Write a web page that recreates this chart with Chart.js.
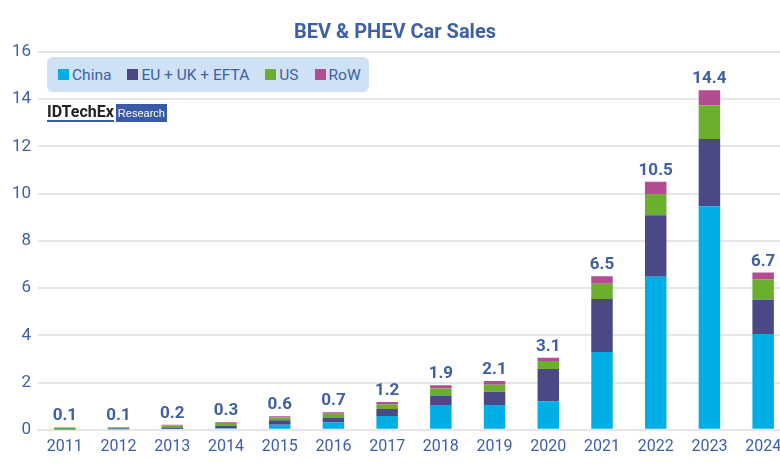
<!DOCTYPE html>
<html>
<head>
<meta charset="utf-8">
<script src="https://cdn.jsdelivr.net/npm/chart.js@4/dist/chart.umd.min.js"></script>
<style>
  html, body { margin: 0; padding: 0; background: #fff; }
  #wrap { position: relative; width: 780px; height: 470px; overflow: hidden; font-family: Roboto, sans-serif; }
  #sales { position: absolute; left: 0; top: 0; }
  #legend {
    position: absolute; left: 47px; top: 57px; width: 322px; height: 35px;
    background: #cfe2f5; border-radius: 6px; box-sizing: border-box;
    display: flex; align-items: center; padding-left: 11px;
    font-size: 15.5px; color: #3d5fa5; white-space: nowrap;
  }
  #legend span.item { display: flex; align-items: center; margin-right: 16px; }
  #legend span.box { width: 11px; height: 11px; margin-right: 3px; display: inline-block; }
  #logo { position: absolute; left: 47px; top: 104px; display: flex; align-items: center; }
  #logo .name { font: bold 16px Roboto, sans-serif; color: #222; border-bottom: 2px solid #3a5aa8; line-height: 16px; margin-right: 2px; }
  #logo .tag { background: #3a5aa8; color: #fff; font: 11px "Liberation Sans", Arial, sans-serif; padding: 3px 2px; }
</style>
</head>
<body>
<div id="wrap">
  <canvas id="sales" width="795" height="470"></canvas>
  <div id="legend"></div>
  <div id="logo"><span class="name">IDTechEx</span><span class="tag">Research</span></div>
</div>
<script>
// millions of cars
const years = ['2011', '2012', '2013', '2014', '2015', '2016', '2017', '2018', '2019', '2020', '2021', '2022', '2023', '2024']
const china = [0.01, 0.02, 0.03, 0.07, 0.21, 0.31, 0.58, 1.05, 1.05, 1.21, 3.30, 6.48, 9.47, 4.06]
const europe = [0.02, 0.03, 0.07, 0.10, 0.19, 0.21, 0.30, 0.38, 0.56, 1.37, 2.24, 2.61, 2.85, 1.45]
const us = [0.05, 0.05, 0.08, 0.12, 0.12, 0.16, 0.20, 0.32, 0.30, 0.33, 0.65, 0.90, 1.43, 0.85]
const row = [0.02, 0.02, 0.03, 0.03, 0.05, 0.06, 0.10, 0.14, 0.16, 0.14, 0.31, 0.51, 0.63, 0.30]
const totals = ['0.1', '0.1', '0.2', '0.3', '0.6', '0.7', '1.2', '1.9', '2.1', '3.1', '6.5', '10.5', '14.4', '6.7']
const yTicks = [0, 2, 4, 6, 8, 10, 12, 14, 16]

const blue = '#3d5fa5'

// totals above each stack
const totalLabels = {
  id: 'totalLabels',
  afterDatasetsDraw(chart) {
    const ctx = chart.ctx
    const last = chart.getDatasetMeta(chart.data.datasets.length - 1)
    ctx.save()
    ctx.font = 'bold 17px Roboto'
    ctx.fillStyle = blue
    ctx.textAlign = 'center'
    ctx.textBaseline = 'alphabetic'
    last.data.forEach((bar, i) => {
      ctx.fillText(totals[i], bar.x, bar.y - 7)
    })
    ctx.restore()
  }
}

const salesConfig = {
  type: 'bar',
  data: {
    labels: years,
    datasets: [
      { label: 'China', data: china, backgroundColor: '#00aee6' },
      { label: 'EU + UK + EFTA', data: europe, backgroundColor: '#4b4886' },
      { label: 'US', data: us, backgroundColor: '#6ab02e' },
      { label: 'RoW', data: row, backgroundColor: '#b44c94' },
    ],
  },
  options: {
    responsive: false,
    animation: false,
    devicePixelRatio: 1,
    layout: { padding: { left: 0, right: 5, top: 0, bottom: 13 } },
    datasets: {
      bar: {
        barPercentage: 0.8,
        categoryPercentage: 0.5,
        borderWidth: 0,
      }
    },
    plugins: {
      legend: { display: false },
      tooltip: { enabled: false },
      title: {
        display: true,
        text: 'BEV & PHEV Car Sales',
        color: blue,
        font: { family: 'Roboto', size: 20, weight: 'bold' },
        padding: { top: 21, bottom: 7 },
      },
    },
    scales: {
      x: {
        stacked: true,
        grid: { display: false },
        border: { color: '#e6e6e6', width: 2 },
        ticks: { color: blue, font: { family: 'Roboto', size: 16 }, padding: 0, maxRotation: 0 },
      },
      y: {
        stacked: true,
        min: 0,
        max: 16,
        afterFit: s => { s.width = 38 },
        afterBuildTicks: s => { s.ticks = yTicks.map(v => ({ value: v })) },
        grid: { color: '#e6e6e6', lineWidth: 2, drawTicks: false },
        border: { display: false },
        ticks: { color: blue, font: { family: 'Roboto', size: 17 }, padding: 7 },
      },
    },
  },
  plugins: [totalLabels],
}

const salesCtx = document.getElementById('sales')
window.mySales = new Chart(salesCtx, salesConfig)

// legend box built from the chart's datasets
const legendEl = document.getElementById('legend')
salesConfig.data.datasets.forEach(ds => {
  const item = document.createElement('span')
  item.className = 'item'
  const box = document.createElement('span')
  box.className = 'box'
  box.style.background = ds.backgroundColor
  item.appendChild(box)
  item.appendChild(document.createTextNode(ds.label))
  legendEl.appendChild(item)
})
</script>
</body>
</html>
